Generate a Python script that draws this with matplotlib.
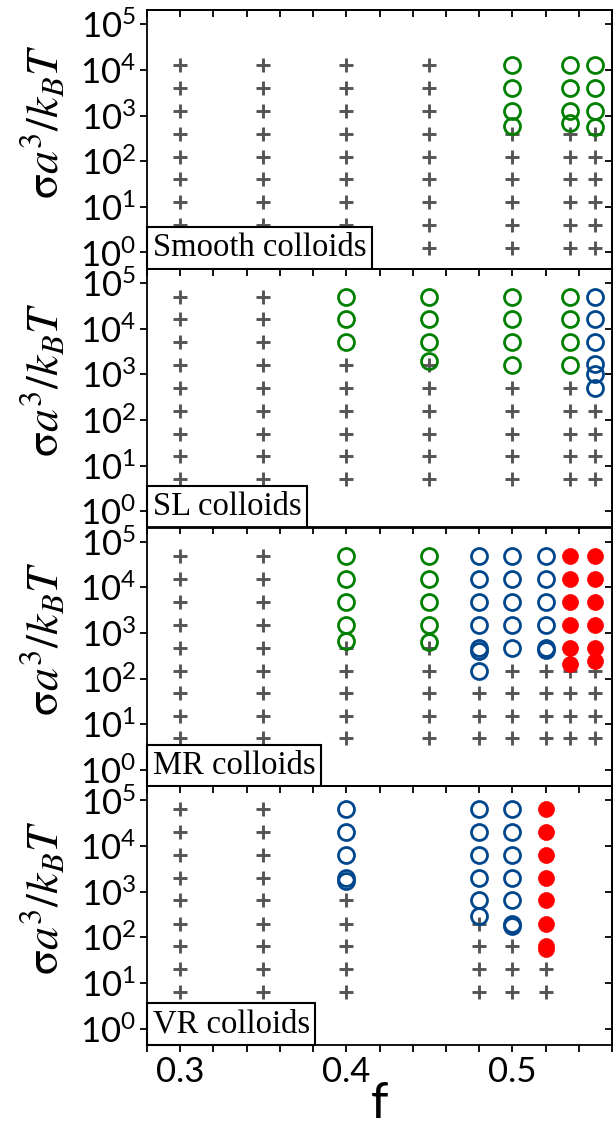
import matplotlib
matplotlib.use('Agg')
import matplotlib.pyplot as plt
import matplotlib.transforms as mtrans
from matplotlib.ticker import MultipleLocator, LogLocator, NullLocator, NullFormatter, LogFormatterSciNotation

plt.rcParams['mathtext.fontset'] = 'custom'
plt.rcParams['mathtext.rm'] = 'Lato'
plt.rcParams['mathtext.it'] = 'Lato:italic'
plt.rcParams['mathtext.bf'] = 'Lato:bold'
plt.rcParams['font.family'] = ['Lato', 'DejaVu Sans']

# ---------------- data ----------------
panel_labels = ['Smooth colloids', 'SL colloids', 'MR colloids', 'VR colloids']

# Smooth colloids
smooth_cross = {
    0.30: [1.25, 4, 12.5, 40, 125, 400, 1250, 4000, 12500],
    0.35: [1.25, 4, 12.5, 40, 125, 400, 1250, 4000, 12500],
    0.40: [1.25, 4, 12.5, 40, 125, 400, 1250, 4000, 12500],
    0.45: [1.25, 4, 12.5, 40, 125, 400, 1250, 4000, 12500],
    0.50: [1.25, 4, 12.5, 40, 125, 400],
    0.535: [1.25, 4, 12.5, 40, 125, 400],
    0.55: [1.25, 4, 12.5, 40, 125, 400],
}
smooth_green = {
    0.50: [580, 1250, 4000, 12500],
    0.535: [690, 1250, 4000, 12500],
    0.55: [560, 1250, 4000, 12500],
}
smooth_blue = {}
smooth_red = {}

# SL colloids
sl_cross = {
    0.30: [5, 16, 50, 160, 500, 1600, 5000, 16000, 50000],
    0.35: [5, 16, 50, 160, 500, 1600, 5000, 16000, 50000],
    0.40: [5, 16, 50, 160, 500, 1600],
    0.45: [5, 16, 50, 160, 500, 1600],
    0.50: [5, 16, 50, 160, 500],
    0.535: [5, 16, 50, 160, 500],
    0.55: [5, 16, 50, 160],
}
sl_green = {
    0.40: [5000, 16000, 50000],
    0.45: [2000, 5000, 16000, 50000],
    0.50: [1600, 5000, 16000, 50000],
    0.535: [1600, 5000, 16000, 50000],
}
sl_blue = {
    0.55: [500, 1000, 1700, 5000, 16000, 50000],
}
sl_red = {}

# MR colloids
mr_cross = {
    0.30: [5, 15, 48, 150, 480, 1500, 4800, 15000, 48000],
    0.35: [5, 15, 48, 150, 480, 1500, 4800, 15000, 48000],
    0.40: [5, 15, 48, 150, 480],
    0.45: [5, 15, 48, 150, 480],
    0.48: [5, 15, 48],
    0.50: [5, 15, 48, 150],
    0.52: [5, 15, 48, 150],
    0.535: [5, 15, 48, 150],
    0.55: [5, 15, 48, 150],
}
mr_green = {
    0.40: [670, 1500, 4800, 15000, 48000],
    0.45: [630, 1500, 4800, 15000, 48000],
}
mr_blue = {
    0.48: [150, 400, 480, 1500, 4800, 15000, 48000],
    0.50: [480, 1500, 4800, 15000, 48000],
    0.52: [420, 480, 1500, 4800, 15000, 48000],
}
mr_red = {
    0.535: [207, 480, 1500, 4800, 15000, 48000],
    0.55: [244, 480, 1500, 4800, 15000, 48000],
}

# VR colloids
vr_cross = {
    0.30: [6.5, 20, 65, 200, 650, 2000, 6500, 20000, 65000],
    0.35: [6.5, 20, 65, 200, 650, 2000, 6500, 20000, 65000],
    0.40: [6.5, 20, 65, 200, 650],
    0.48: [6.5, 20, 65, 200],
    0.50: [6.5, 20, 65],
    0.52: [6.5, 20],
}
vr_green = {}
vr_blue = {
    0.40: [1700, 2000, 6500, 20000, 65000],
    0.48: [300, 650, 2000, 6500, 20000, 65000],
    0.50: [175, 200, 650, 2000, 6500, 20000, 65000],
}
vr_red = {
    0.52: [55, 65, 200, 650, 2000, 6500, 20000, 65000],
}

panels = [
    (smooth_cross, smooth_green, smooth_blue, smooth_red),
    (sl_cross, sl_green, sl_blue, sl_red),
    (mr_cross, mr_green, mr_blue, mr_red),
    (vr_cross, vr_green, vr_blue, vr_red),
]

x_ticks_major = [0.3, 0.4, 0.5]
x_tick_labels = ['0.3', '0.4', '0.5']

# ---------------- style ----------------
CROSS_C = '#555555'
GREEN_C = '#008000'
BLUE_C = '#00468C'
RED_C = '#FF0000'


def flatten(d):
    xs, ys = [], []
    for f, ss in d.items():
        for s in ss:
            xs.append(f)
            ys.append(s)
    return xs, ys


fig = plt.figure(figsize=(6.13, 11.26), dpi=100)
gs = fig.add_gridspec(4, 1, left=147 / 613, right=612 / 613,
                      top=1 - 10 / 1126, bottom=1 - 1045 / 1126, hspace=0)

label_fs = 23.5
pad_frac = 0.17
pad_px = pad_frac * label_fs * 100 / 72.0

for i, (cross, green, blue, red) in enumerate(panels):
    ax = fig.add_subplot(gs[i, 0])
    ax.set_yscale('log')
    ax.set_xlim(0.28, 0.56)
    ax.set_ylim(0.44, 2.05e5)

    xs, ys = flatten(cross)
    ax.plot(xs, ys, ls='none', marker='+', ms=10, mew=2.1, color=CROSS_C, zorder=2)
    xs, ys = flatten(green)
    if xs:
        ax.plot(xs, ys, ls='none', marker='o', ms=11.5, mew=2.0, mfc='none',
                mec=GREEN_C, zorder=3)
    xs, ys = flatten(blue)
    if xs:
        ax.plot(xs, ys, ls='none', marker='o', ms=11.5, mew=2.0, mfc='none',
                mec=BLUE_C, zorder=3)
    xs, ys = flatten(red)
    if xs:
        ax.plot(xs, ys, ls='none', marker='o', ms=11.5, mew=0.5, mfc=RED_C,
                mec=RED_C, zorder=3)

    for sp in ax.spines.values():
        sp.set_linewidth(1.3)

    # x ticks
    ax.xaxis.set_major_locator(MultipleLocator(0.1))
    ax.xaxis.set_minor_locator(MultipleLocator(0.02))
    ax.tick_params(axis='x', which='both', direction='out', length=5, width=1.3,
                   top=False, bottom=True, pad=3, labelsize=25)
    if i < 3:
        ax.tick_params(axis='x', labelbottom=False)
    else:
        ax.set_xticks(x_ticks_major)
        ax.set_xticklabels(x_tick_labels)

    # y ticks
    ax.yaxis.set_major_locator(LogLocator(base=10, numticks=10))
    ax.yaxis.set_minor_locator(NullLocator())
    ax.yaxis.set_major_formatter(LogFormatterSciNotation())
    ax.tick_params(axis='y', which='both', direction='out', length=5, width=1.3,
                   right=False, left=True, pad=3, labelsize=25)

    # inward ticks on top and right
    sx = ax.secondary_xaxis('top')
    sx.xaxis.set_major_locator(MultipleLocator(0.1))
    sx.xaxis.set_minor_locator(MultipleLocator(0.02))
    sx.tick_params(axis='x', which='both', direction='in', length=5, width=1.3,
                   labeltop=False)
    sx.spines['top'].set_linewidth(1.3)
    sy = ax.secondary_yaxis('right')
    sy.yaxis.set_major_locator(LogLocator(base=10, numticks=10))
    sy.yaxis.set_minor_locator(NullLocator())
    sy.tick_params(axis='y', which='both', direction='in', length=5, width=1.3,
                   labelright=False)
    sy.yaxis.set_major_formatter(NullFormatter())
    sy.spines['right'].set_linewidth(1.3)

    # y label
    ax.text(-0.225, 0.57, r'$\mathrm{σ}a^3/k_BT$', transform=ax.transAxes,
            rotation=90, ha='center', va='center', fontsize=33,
            math_fontfamily='stix')

    # panel label box
    tr = mtrans.offset_copy(ax.transAxes, fig=fig, x=pad_px, y=pad_px, units='dots')
    ax.text(0, 0, panel_labels[i], transform=tr, ha='left', va='bottom',
            fontsize=label_fs, family='Liberation Serif', zorder=10,
            clip_on=False,
            bbox=dict(boxstyle='square,pad=%g' % pad_frac, fc='white',
                      ec='black', lw=1.5))

fig.text(380 / 613, 8 / 1126, 'f', ha='center', va='baseline', fontsize=36)

fig.savefig('out.png', dpi=100)
